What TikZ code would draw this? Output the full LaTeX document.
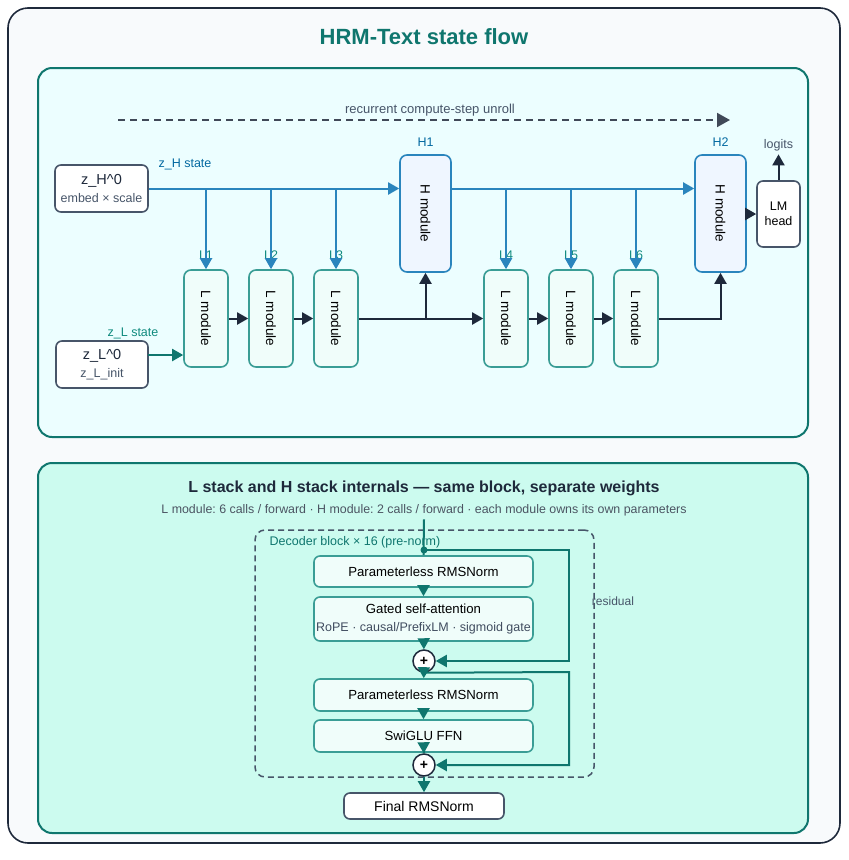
\documentclass[tikz,border=0pt]{standalone}
\usepackage{fontspec}
\setmainfont{Liberation Sans}
\usepackage{graphicx}
\usepackage{tikz}
\usetikzlibrary{positioning,arrows.meta}
\frenchspacing

\definecolor{framefill}{HTML}{F8FAFC}
\definecolor{ink}{HTML}{1E293B}
\definecolor{slate}{HTML}{475569}
\definecolor{tealdk}{HTML}{0F766E}
\definecolor{topfill}{HTML}{ECFEFF}
\definecolor{botfill}{HTML}{CCFBEF}
\definecolor{hblue}{HTML}{2A85BD}
\definecolor{hlabel}{HTML}{0369A1}
\definecolor{hfill}{HTML}{EFF6FF}
\definecolor{lstroke}{HTML}{3A9D95}
\definecolor{lfill}{HTML}{F0FDFA}
\definecolor{llabel}{HTML}{0F8A7E}

\newcommand{\fs}[1]{\fontsize{#1}{#1}\selectfont}

\begin{document}
\begin{tikzpicture}[
    x=1pt, y=-1pt,
    font=\fs{12.5},
    panel/.style={draw=tealdk, line width=2pt, rounded corners=14pt},
    box/.style={draw=slate, fill=white, line width=1.6pt, rounded corners=6pt, align=center, inner sep=1pt},
    hmod/.style={draw=hblue, fill=hfill, line width=1.6pt, rounded corners=7pt, minimum width=51pt, minimum height=117pt, inner sep=0pt, font=\fs{13.5}},
    lmod/.style={draw=lstroke, fill=lfill, line width=1.6pt, rounded corners=7pt, minimum width=44pt, minimum height=97pt, inner sep=0pt, font=\fs{13.5}},
    blk/.style={draw=lstroke, fill=lfill, line width=1.6pt, rounded corners=6pt, minimum width=219pt, align=center, inner sep=0pt, font=\fs{13.2}},
    plus/.style={circle, draw=ink, fill=white, line width=1.5pt, minimum size=22pt, inner sep=0pt, font=\bfseries\fs{14}},
    tip/.style={-{Triangle[length=11pt, width=12pt]}},
    harr/.style={tip, draw=hblue, line width=2pt},
    darr/.style={tip, draw=ink, line width=2pt},
    tarr/.style={tip, draw=tealdk, line width=2pt},
    tline/.style={draw=tealdk, line width=2pt},
    hlbl/.style={text=hlabel, font=\fs{12.5}},
    llbl/.style={text=llabel, font=\fs{12.5}},
    note/.style={text=slate, font=\fs{12.5}}
  ]
  \useasboundingbox (0,0) rectangle (849,860);
  % frame and panels
  \draw[ink, fill=framefill, line width=1.6pt, rounded corners=20pt] (8,8) rectangle (840,843);
  \node[text=tealdk, font=\bfseries\fs{22}] (title) at (424,37) {HRM-Text state flow};
  \draw[panel, fill=topfill] (38,68) rectangle (808,437);
  \draw[panel, fill=botfill] (38,463) rectangle (808,833);

  % unroll arrow
  \coordinate (u0) at (118,120);
  \coordinate (u1) at (730,120);
  \draw[ink!85, line width=2pt, dash pattern=on 7pt off 5pt, -{Triangle[length=13pt, width=14pt]}] (u0) -- (u1);
  \node[note, font=\fs{13}] (unroll) at (430,110) {recurrent compute-step unroll};

  % initial states
  \node[box, minimum width=93pt, minimum height=47pt] (zh0) at (101.5,188.5) {\fs{14.5}\textcolor{ink}{z\_H\^{}0}\\[5pt]\fs{12.5}\textcolor{slate}{embed × scale}};
  \node[box, minimum width=92pt, minimum height=47pt] (zl0) at (102,364.5) {\fs{14.5}\textcolor{ink}{z\_L\^{}0}\\[5pt]\fs{12.5}\textcolor{slate}{z\_L\_init}};
  \node[hlbl] (zhlbl) at (185,164) {z\_H state};
  \node[llbl] (zllbl) at (133,333) {z\_L state};

  % H modules
  \node[hmod] (h1) at (425.5,213.5) {\rotatebox{-90}{H module}};
  \node[hmod] (h2) at (720.5,213.5) {\rotatebox{-90}{H module}};
  \node[hlbl, above=4pt of h1] (h1lbl) {H1};
  \node[hlbl, above=4pt of h2] (h2lbl) {H2};

  % L modules
  \node[lmod] (l1) at (206,318.5) {\rotatebox{-90}{L module}};
  \node[lmod] (l2) at (271,318.5) {\rotatebox{-90}{L module}};
  \node[lmod] (l3) at (336,318.5) {\rotatebox{-90}{L module}};
  \node[lmod] (l4) at (506,318.5) {\rotatebox{-90}{L module}};
  \node[lmod] (l5) at (571,318.5) {\rotatebox{-90}{L module}};
  \node[lmod] (l6) at (636,318.5) {\rotatebox{-90}{L module}};
  \node[llbl] (l1lbl) at (206,255) {L1};
  \node[llbl] (l2lbl) at (271,255) {L2};
  \node[llbl] (l3lbl) at (336,255) {L3};
  \node[llbl] (l4lbl) at (506,255) {L4};
  \node[llbl] (l5lbl) at (571,255) {L5};
  \node[llbl] (l6lbl) at (636,255) {L6};

  % head
  \node[box, minimum width=43pt, minimum height=66pt, font=\fs{12.5}] (lm) at (778.5,214) {LM\\[3pt]head};
  \node[note] (logits) at (778.5,145) {logits};

  % z_H path
  \draw[harr] (zh0.east) -- (h1.west |- zh0.east);
  \draw[harr] (l1.north |- zh0.east) -- (l1.north);
  \draw[harr] (l2.north |- zh0.east) -- (l2.north);
  \draw[harr] (l3.north |- zh0.east) -- (l3.north);
  \draw[harr] (h1.east |- zh0.east) -- (h2.west |- zh0.east);
  \draw[harr] (l4.north |- zh0.east) -- (l4.north);
  \draw[harr] (l5.north |- zh0.east) -- (l5.north);
  \draw[harr] (l6.north |- zh0.east) -- (l6.north);

  % z_L path
  \coordinate (zlin) at (148,355);
  \draw[tarr] (zlin) -- (l1.west |- zlin);
  \draw[darr] (l1) -- (l2);
  \draw[darr] (l2) -- (l3);
  \draw[darr] (l3) -- (l4);
  \draw[darr] (h1.south |- l3.east) -- (h1.south);
  \draw[darr] (l4) -- (l5);
  \draw[darr] (l5) -- (l6);
  \draw[darr] (l6.east) -| (h2.south);
  \draw[darr] (h2.east |- lm.west) -- (lm.west);
  \draw[darr] (lm.north) -- (logits.south);

  % internals panel
  \node[text=ink, font=\bfseries\fs{16}] (btitle) at (424,488) {L stack and H stack internals — same block, separate weights};
  \node[text=ink!80, font=\fs{12.4}] (bsub) at (424,510) {L module: 6 calls / forward · H module: 2 calls / forward · each module owns its own parameters};
  \node[draw=slate, line width=1.5pt, dash pattern=on 6pt off 4pt, rounded corners=10pt, minimum width=339pt, minimum height=247pt] (dec) at (424.5,653.5) {};
  \node[text=tealdk, font=\fs{12.5}] (declbl) at (355,542) {Decoder block × 16 (pre-norm)};
  \node[note, font=\fs{12}] (reslbl) at (613,601) {residual};

  \node[blk, minimum height=31pt] (norm1) at (423.5,571.5) {Parameterless RMSNorm};
  \node[blk, minimum height=44pt] (attn) at (423.5,619) {Gated self-attention\\[4pt]{\fs{12.5}\textcolor{slate!90!black}{RoPE · causal/PrefixLM · sigmoid gate}}};
  \node[plus] (p1) at (424,661) {+};
  \node[blk, minimum height=32pt] (norm2) at (423.5,695) {Parameterless RMSNorm};
  \node[blk, minimum height=32pt] (ffn) at (423.5,736) {SwiGLU FFN};
  \node[plus] (p2) at (424,765) {+};
  \node[box, minimum width=160pt, minimum height=26pt, font=\fs{14}] (fnorm) at (424,806) {Final RMSNorm};

  % block wiring
  \coordinate (split) at (424,550);
  \coordinate (r1) at (569,550);
  \coordinate (r2) at (569,672);
  \draw[tline] (bsub.south) -- (norm1.north);
  \fill[tealdk] (split) circle (3.5pt);
  \draw[tarr] (split) -- (r1) |- (p1.east);
  \draw[tarr] (norm1) -- (attn);
  \draw[tarr] (attn) -- (p1);
  \draw[tarr] (p1.south) -- (r2) |- (p2.east);
  \draw[tarr] (p1) -- (norm2);
  \draw[tarr] (norm2) -- (ffn);
  \draw[tarr] (ffn) -- (p2);
  \draw[tarr] (p2) -- (fnorm);
\end{tikzpicture}
\end{document}
